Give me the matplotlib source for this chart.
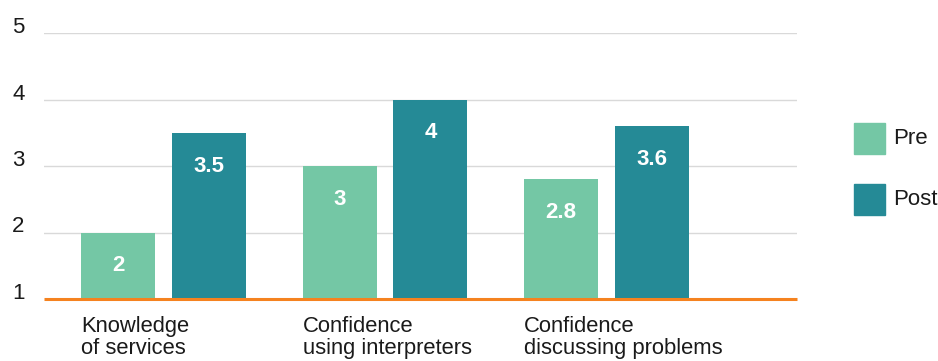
import matplotlib
matplotlib.use("Agg")
import matplotlib.pyplot as plt
from matplotlib.patches import Rectangle
import numpy as np

plt.rcParams['font.family'] = ['Liberation Sans', 'DejaVu Sans']

categories = ["Knowledge\nof services", "Confidence\nusing interpreters", "Confidence\ndiscussing problems"]
pre_values = [2, 3, 2.8]
post_values = [3.5, 4, 3.6]
pre_labels = ["2", "3", "2.8"]
post_labels = ["3.5", "4", "3.6"]
y_ticks = [1, 2, 3, 4, 5]
series_names = ["Pre", "Post"]

pre_color = "#74c7a5"
post_color = "#258a96"
base_color = "#f5821f"
grid_color = "#d9d9d9"
text_color = "#1a1a1a"

W, H = 938, 361
fig = plt.figure(figsize=(W / 100, H / 100), dpi=100)
ax = fig.add_axes([44 / W, 1 - 299 / H, (797 - 44) / W, (299 - 33) / H])

x = np.arange(len(categories))
offset = 0.205
width = 0.334

bars_pre = ax.bar(x - offset, np.array(pre_values) - 1, width, bottom=1, color=pre_color, zorder=2)
bars_post = ax.bar(x + offset, np.array(post_values) - 1, width, bottom=1, color=post_color, zorder=2)

for bars, vals, labels in ((bars_pre, pre_values, pre_labels), (bars_post, post_values, post_labels)):
    for b, v, t in zip(bars, vals, labels):
        ax.annotate(t, (b.get_x() + b.get_width() / 2, v), xytext=(0, -24), textcoords="offset points",
                    ha="center", va="center", color="white", fontsize=16, fontweight="bold", zorder=4)

ax.set_xlim(-0.54, 2.86)
ax.set_ylim(1, 5)

for yv in y_ticks[1:]:
    ax.axhline(yv, color=grid_color, lw=1, zorder=1)
ax.axhline(1, color=base_color, lw=2.2, zorder=3, solid_capstyle="butt", clip_on=False)

ax.set_yticks(y_ticks)
ax.set_yticklabels([str(v) for v in y_ticks], fontsize=16, color=text_color)
for lab in ax.get_yticklabels():
    lab.set_horizontalalignment("left")
    lab.set_verticalalignment("baseline")
ax.tick_params(axis="y", length=0, pad=23)

ax.set_xticks(x - offset - width / 2)
ax.set_xticklabels(categories, fontsize=15.8, color=text_color, ha="left", linespacing=1.1)
ax.tick_params(axis="x", length=0, pad=12)

for s in ax.spines.values():
    s.set_visible(False)

# legend: colour squares with labels to the right
legend_rows = [(series_names[0], pre_color, 123), (series_names[1], post_color, 184)]
sq = 31
for name, col, top in legend_rows:
    fig.add_artist(Rectangle((854 / W, 1 - (top + sq) / H), sq / W, sq / H,
                             transform=fig.transFigure, color=col))
    fig.text(893 / W, 1 - (top + sq / 2) / H, name, fontsize=16, color=text_color,
             ha="left", va="center")

fig.savefig("out.png", dpi=100)
